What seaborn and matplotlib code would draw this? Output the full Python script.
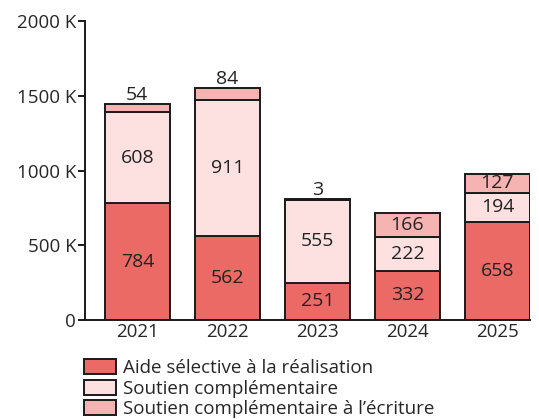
import matplotlib
matplotlib.use("Agg")
import matplotlib.pyplot as plt
import seaborn as sns
import pandas as pd

years = ["2021", "2022", "2023", "2024", "2025"]
aide_realisation = [784, 562, 251, 332, 658]
soutien_complementaire = [608, 911, 555, 222, 194]
soutien_ecriture = [54, 84, 3, 166, 127]
series_names = ["Aide sélective à la réalisation", "Soutien complémentaire",
                "Soutien complémentaire à l’écriture"]
colors = ["#EC6A66", "#FDE1E1", "#F5B3B1"]
yticks = [0, 500, 1000, 1500, 2000]
ytick_labels = ["0", "500 K", "1000 K", "1500 K", "2000 K"]

sns.set_style("white")
plt.rcParams["font.family"] = ["Open Sans", "DejaVu Sans"]

fig = plt.figure(figsize=(5.39, 4.19), dpi=100)
ax = fig.add_axes([0.158, 0.236, 0.825, 0.713])

df = pd.DataFrame({"year": years, "a": aide_realisation,
                   "b": soutien_complementaire, "c": soutien_ecriture})
bottoms = [0] * len(years)
series = [aide_realisation, soutien_complementaire, soutien_ecriture]
keys = ["a", "b", "c"]
for key, vals, name, col in zip(keys, series, series_names, colors):
    sns.barplot(data=df, x="year", y=key, bottom=bottoms, color=col,
                edgecolor="#1a1a1a", linewidth=1.4, width=0.72, ax=ax,
                label=name, saturation=1, err_kws={"linewidth": 0})
    bottoms = [b + v for b, v in zip(bottoms, vals)]

for cont, vals in zip(ax.containers, series):
    small = [str(v) if v < 100 else "" for v in vals]
    big = [str(v) if v >= 100 else "" for v in vals]
    ax.bar_label(cont, labels=big, label_type="center", fontsize=14, color="#222222")
    ax.bar_label(cont, labels=small, label_type="edge", padding=0, fontsize=14, color="#222222")

ax.set_xlim(-0.58, 4.36)
ax.set_ylim(0, 2000)
ax.set_yticks(yticks)
ax.set_yticklabels(ytick_labels)
ax.set_xlabel("")
ax.set_ylabel("")
for s in ["top", "right"]:
    ax.spines[s].set_visible(False)
for s in ["left", "bottom"]:
    ax.spines[s].set_linewidth(1.4)
    ax.spines[s].set_color("#1a1a1a")
ax.tick_params(axis="y", length=5, width=1.4, labelsize=13.5, pad=1.5, left=True, color="#1a1a1a")
ax.tick_params(axis="x", length=0, labelsize=13.5, pad=2)

handles, labels = ax.get_legend_handles_labels()
if ax.get_legend():
    ax.get_legend().remove()
fig.legend(handles[:3], labels[:3], loc="upper left", bbox_to_anchor=(0.156, 0.143),
           frameon=False, fontsize=13.5, handlelength=1.7, handleheight=0.85,
           handletextpad=0.4, labelspacing=0.13, borderaxespad=0, borderpad=0)

fig.savefig("out.png", dpi=100)
